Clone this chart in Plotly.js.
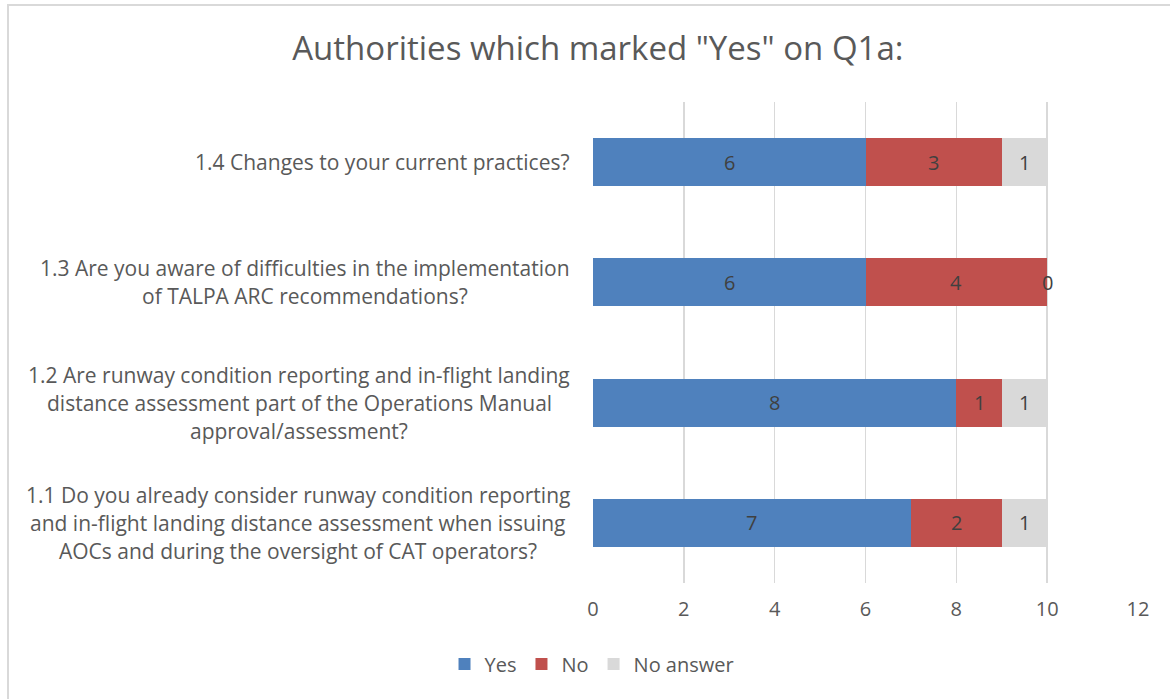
<!DOCTYPE html>
<html>
<head>
<meta charset="utf-8">
<script src="https://cdn.plot.ly/plotly-3.0.1.min.js"></script>
<style>
  html, body { margin: 0; padding: 0; background: #fff; }
  #chart { width: 1170px; height: 699px; position: relative; }
  #frame { position: absolute; left: 7px; top: 4px; width: 1200px; height: 720px;
           border: 2px solid #d9d9d9; box-sizing: border-box; pointer-events: none; }
</style>
</head>
<body>
<div id="chart"></div>
<div id="frame"></div>
<script>
// ---- data ----
const categories = [
  "1.1 Do you already consider runway condition reporting<br>and in-flight landing distance assessment when issuing<br>AOCs and during the oversight of CAT operators?",
  "1.2 Are runway condition reporting and in-flight landing<br>distance assessment part of the Operations Manual<br>approval/assessment?",
  "1.3 Are you aware of difficulties in the implementation<br>of TALPA ARC recommendations?",
  "1.4 Changes to your current practices?"
];
const yesValues = [7, 8, 6, 6];
const noValues = [2, 1, 4, 3];
const noAnswerValues = [1, 1, 0, 1];
const seriesNames = ["Yes", "No", "No answer"];
const xTickValues = [0, 2, 4, 6, 8, 10, 12];

const FONT = "'Open Sans', sans-serif";
const TXT = "#595959";
const LABEL_SIZE = 21;
const colors = ["#4f81bd", "#c0504d", "#d9d9d9"];
const series = [yesValues, noValues, noAnswerValues];

const traces = series.map((vals, i) => ({
  type: "bar",
  orientation: "h",
  name: seriesNames[i],
  y: categories,
  x: vals,
  marker: { color: colors[i] },
  hoverinfo: "x+name"
}));

const annotations = [];
// data labels, centered in each segment
categories.forEach((cat, ci) => {
  let base = 0;
  series.forEach((vals) => {
    const v = vals[ci];
    annotations.push({
      xref: "x", yref: "y", x: base + v / 2, y: cat,
      text: String(v), showarrow: false,
      font: { family: FONT, size: 20, color: "#404040" }
    });
    base += v;
  });
});
// category labels: lines centered within a right-aligned block
const ctx = document.createElement("canvas").getContext("2d");
ctx.font = LABEL_SIZE + "px 'Open Sans'";
const LINE = 28;
const LEFT_PX = 593, RIGHT_EDGE = 570;
categories.forEach((cat) => {
  const lines = cat.split("<br>");
  const maxW = Math.max(...lines.map(l => ctx.measureText(l).width));
  const centerShift = (RIGHT_EDGE - maxW / 2) - LEFT_PX;
  lines.forEach((ln, li) => {
    annotations.push({
      xref: "paper", yref: "y", x: 0, y: cat,
      xanchor: "center", xshift: centerShift,
      yshift: ((lines.length - 1) / 2 - li) * LINE,
      text: ln, showarrow: false,
      font: { family: FONT, size: LABEL_SIZE, color: TXT }
    });
  });
});

const layout = {
  width: 1170, height: 699,
  paper_bgcolor: "#fff", plot_bgcolor: "#fff",
  margin: { l: 593, r: 32, t: 102, b: 116 },
  barmode: "stack",
  bargap: 0.6,
  font: { family: FONT, color: TXT, size: 18 },
  title: {
    text: 'Authorities which marked "Yes" on Q1a:',
    font: { family: FONT, size: 33, color: TXT },
    x: 0.511, xanchor: "center", xref: "container",
    y: 1 - 48 / 699, yanchor: "middle", yref: "container"
  },
  xaxis: {
    range: [0, 12], tickvals: xTickValues, ticktext: xTickValues.map(String),
    showgrid: true, gridcolor: "#d9d9d9", gridwidth: 1.5,
    zeroline: false, showline: false, ticks: "",
    ticklabelstandoff: 12,
    tickfont: { family: FONT, size: 20, color: TXT },
    fixedrange: true
  },
  yaxis: {
    categoryorder: "array", categoryarray: categories,
    showticklabels: false, showgrid: false, zeroline: false, ticks: "",
    fixedrange: true
  },
  showlegend: true,
  legend: {
    orientation: "h", xref: "container", yref: "container",
    x: 0.506, xanchor: "center", y: 1 - 664 / 699, yanchor: "middle",
    font: { family: FONT, size: 20, color: TXT },
    itemwidth: 30, traceorder: "normal"
  },
  annotations: annotations
};

Plotly.newPlot("chart", traces, layout, { displayModeBar: false, staticPlot: true });
</script>
</body>
</html>
